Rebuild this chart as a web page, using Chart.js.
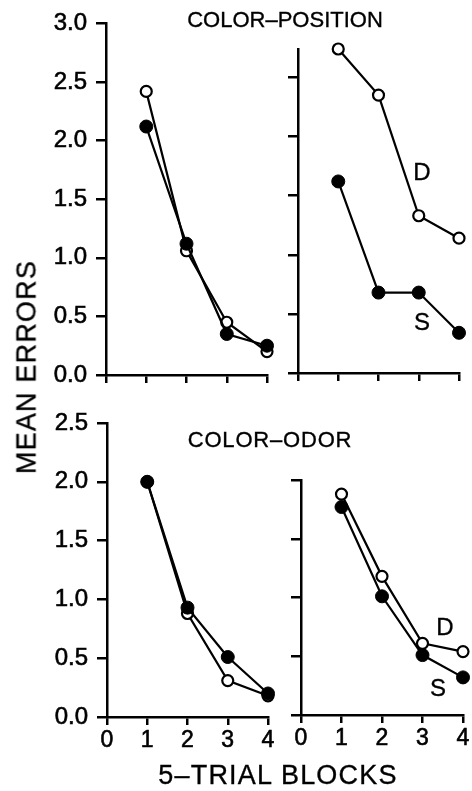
<!DOCTYPE html>
<html><head><meta charset="utf-8">
<script src="https://cdn.jsdelivr.net/npm/chart.js@4.4.1/dist/chart.umd.min.js"></script>
<style>
html,body{margin:0;padding:0;background:#fff;}
#wrap{position:relative;width:472px;height:791px;overflow:hidden;font-family:'Liberation Sans',Arial,sans-serif;color:#000;}
canvas{position:absolute;left:0;top:0;}
.t{position:absolute;white-space:nowrap;line-height:1;transform:translate(-50%,-50%);-webkit-text-stroke:0.35px #000;}
</style></head><body>
<div id="wrap">
<canvas id="c1" width="472" height="791"></canvas>
<canvas id="c2" width="472" height="791"></canvas>
<canvas id="c3" width="472" height="791"></canvas>
<canvas id="c4" width="472" height="791"></canvas>
<div class="t" style="left:285px;top:20px;font-size:22px;">COLOR–POSITION</div>
<div class="t" style="left:270px;top:440px;font-size:22px;letter-spacing:0.8px;">COLOR–ODOR</div>
<div class="t" style="left:27px;top:367px;font-size:27px;letter-spacing:1.2px;transform:translate(-50%,-50%) rotate(-90deg);">MEAN ERRORS</div>
<div class="t" style="left:278px;top:775px;font-size:27px;letter-spacing:1.2px;">5–TRIAL BLOCKS</div>
<div class="t" style="left:422px;top:172px;font-size:24px;">D</div>
<div class="t" style="left:422px;top:322px;font-size:24px;">S</div>
<div class="t" style="left:445px;top:627px;font-size:24px;">D</div>
<div class="t" style="left:438px;top:688px;font-size:24px;">S</div>
</div>
<script>
// 5-trial blocks (x categories)
const blocks = [1, 2, 3, 4];
// tick labels
const xTickLabels = ['0', '1', '2', '3', '4'];
const yTickLabels = ['0.0', '0.5', '1.0', '1.5', '2.0', '2.5', '3.0'];
// COLOR-POSITION, left panel
const posLeftOpen   = [2.42, 1.06, 0.45, 0.20];
const posLeftFilled = [2.12, 1.12, 0.35, 0.25];
// COLOR-POSITION, right panel (D = open, S = filled)
const posRightOpen   = [2.74, 2.35, 1.33, 1.14];
const posRightFilled = [1.62, 0.68, 0.68, 0.34];
// COLOR-ODOR, left panel
const odorLeftOpen   = [2.00, 0.88, 0.31, 0.18];
const odorLeftFilled = [2.00, 0.93, 0.51, 0.20];
// COLOR-ODOR, right panel (D = open, S = filled)
const odorRightOpen   = [1.88, 1.18, 0.61, 0.54];
const odorRightFilled = [1.77, 1.01, 0.51, 0.32];

const W = 472, H = 791, YW = 60, XH = 40;
const YFONT = {family: "'Liberation Sans', Arial, sans-serif", size: 24};
const XFONT = {family: "'Liberation Sans', Arial, sans-serif", size: 23};

function pts(vals){ return blocks.map((b,i)=>({x:b, y:vals[i]})); }

function panel(id, area, yMax, showX, showY, openVals, filledVals){
  new Chart(document.getElementById(id), {
    type: 'line',
    data: {
      datasets: [
        {data: pts(filledVals), order: 0, borderColor:'#000', borderWidth:2.2,
         pointRadius:6.5, pointBackgroundColor:'#000', pointBorderColor:'#000', pointBorderWidth:1,
         clip:false, tension:0},
        {data: pts(openVals), order: 1, borderColor:'#000', borderWidth:2.2,
         pointRadius:5.5, pointBackgroundColor:'#fff', pointBorderColor:'#000', pointBorderWidth:2.2,
         clip:false, tension:0}
      ]
    },
    options: {
      responsive:false, animation:false, devicePixelRatio:1,
      layout:{padding:{left: area.L - YW, right: W - area.R, top: area.T, bottom: H - area.B - XH}},
      plugins:{legend:{display:false}, tooltip:{enabled:false}, title:{display:false}},
      scales:{
        x:{type:'linear', min:0, max:4,
           afterFit: s => { s.height = XH; },
           border:{display:true, color:'#000', width:2.5},
           grid:{drawOnChartArea:false, drawTicks:true, tickLength:8, color:'#000', lineWidth:2.5},
           ticks:{display:showX, stepSize:1, autoSkip:false, maxRotation:0, padding:2,
                  textStrokeColor:'#000', textStrokeWidth:0.6,
                  color:'#000', font:XFONT, callback: v => xTickLabels[v]}},
        y:{type:'linear', min:0, max:yMax,
           afterFit: s => { s.width = YW; },
           border:{display:true, color:'#000', width:2.5},
           grid:{drawOnChartArea:false, drawTicks:true, tickLength:10, color:'#000', lineWidth:2.5},
           ticks:{display:showY, stepSize:0.5, includeBounds:false, padding:9,
                  textStrokeColor:'#000', textStrokeWidth:0.6,
                  color:'#000', font:YFONT, callback: v => yTickLabels[Math.round(v*2)]}}
      }
    }
  });
}

panel('c1', {L:106, R:267, T:20,  B:375}, 3.0,  false, true,  posLeftOpen,   posLeftFilled);
panel('c2', {L:298, R:459, T:49,  B:373}, 2.74, false, false, posRightOpen,  posRightFilled);
panel('c3', {L:107, R:268, T:423, B:717}, 2.5,  true,  true,  odorLeftOpen,  odorLeftFilled);
panel('c4', {L:301, R:463, T:480, B:715}, 2.0,  true,  false, odorRightOpen, odorRightFilled);
</script>
</body></html>
